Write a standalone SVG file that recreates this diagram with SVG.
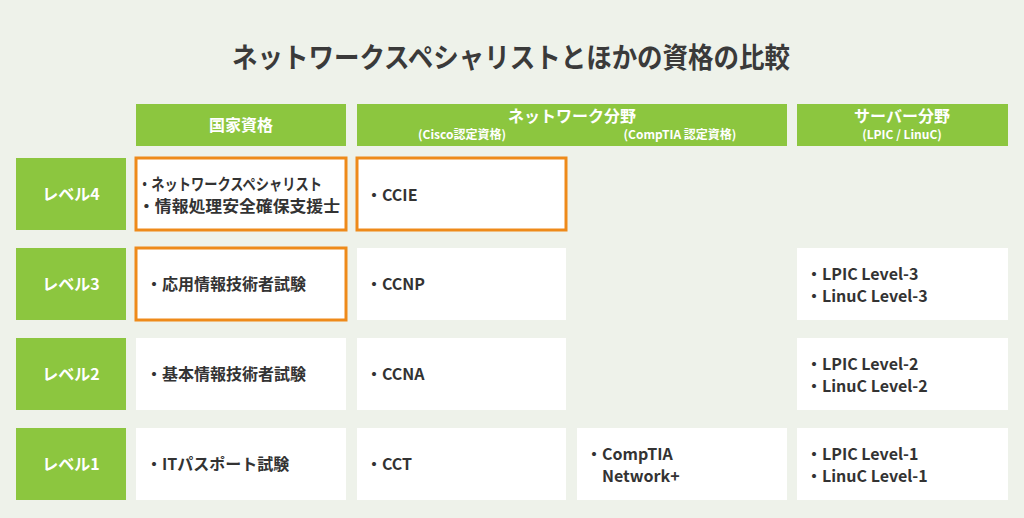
<svg xmlns="http://www.w3.org/2000/svg" width="1024" height="518" viewBox="0 0 1024 518">
<style>
.h{fill:#8cc63f}
.c{fill:#fff}
.o{fill:#fff;stroke:#ee8a1a;stroke-width:3}
text{font-family:"Noto Sans CJK JP","Noto Sans",sans-serif;font-weight:bold}
.ht{fill:#fff;font-size:16px;text-anchor:middle}
.hs{fill:#fff;font-size:12px;text-anchor:middle}
.t{fill:#333;font-size:16px}
</style>
<rect width="1024" height="518" fill="#eef2ea"/>
<text x="232" y="68" font-size="28" font-weight="500" fill="#3a3a3a" textLength="558" lengthAdjust="spacingAndGlyphs">ネットワークスペシャリストとほかの資格の比較</text>
<g id="headers">
<rect class="h" x="136" y="104" width="210" height="42"/><text class="ht" x="241" y="131">国家資格</text>
<rect class="h" x="357" y="104" width="430" height="42"/><text class="ht" x="572" y="122">ネットワーク分野</text>
<text class="hs" x="462" y="139">(Cisco認定資格)</text><text class="hs" x="680" y="139">(CompTIA 認定資格)</text>
<rect class="h" x="797" y="104" width="211" height="42"/><text class="ht" x="902" y="122">サーバー分野</text><text class="hs" x="902" y="139">(LPIC / LinuC)</text>
</g>
<g id="levels">
<rect class="h" x="16" y="158" width="110" height="72"/><text class="ht" x="71" y="200">レベル4</text>
<rect class="h" x="16" y="248" width="110" height="72"/><text class="ht" x="71" y="290">レベル3</text>
<rect class="h" x="16" y="338" width="110" height="72"/><text class="ht" x="71" y="380">レベル2</text>
<rect class="h" x="16" y="428" width="110" height="72"/><text class="ht" x="71" y="470">レベル1</text>
</g>
<g id="row4">
<rect class="o" x="136" y="158" width="210" height="72"/><text class="t" x="138" y="190" font-size="15" textLength="184" lengthAdjust="spacingAndGlyphs">・ネットワークスペシャリスト</text><text class="t" x="138" y="212" font-size="15" textLength="202" lengthAdjust="spacingAndGlyphs">・情報処理安全確保支援士</text>
<rect class="o" x="357" y="158" width="209" height="72"/><text class="t" x="366" y="201">・CCIE</text>
</g>
<g id="row3">
<rect class="o" x="136" y="248" width="210" height="72"/><text class="t" x="146" y="290">・応用情報技術者試験</text>
<rect class="c" x="357" y="248" width="209" height="72"/><text class="t" x="366" y="290">・CCNP</text>
<rect class="c" x="797" y="248" width="211" height="72"/><text class="t" x="806" y="280">・LPIC Level-3</text><text class="t" x="806" y="302">・LinuC Level-3</text>
</g>
<g id="row2">
<rect class="c" x="136" y="338" width="210" height="72"/><text class="t" x="146" y="380">・基本情報技術者試験</text>
<rect class="c" x="357" y="338" width="209" height="72"/><text class="t" x="366" y="380">・CCNA</text>
<rect class="c" x="797" y="338" width="211" height="72"/><text class="t" x="806" y="370">・LPIC Level-2</text><text class="t" x="806" y="392">・LinuC Level-2</text>
</g>
<g id="row1">
<rect class="c" x="136" y="428" width="210" height="72"/><text class="t" x="146" y="470">・ITパスポート試験</text>
<rect class="c" x="357" y="428" width="209" height="72"/><text class="t" x="366" y="470">・CCT</text>
<rect class="c" x="577" y="428" width="210" height="72"/><text class="t" x="586" y="460">・CompTIA</text><text class="t" x="602" y="482">Network+</text>
<rect class="c" x="797" y="428" width="211" height="72"/><text class="t" x="806" y="460">・LPIC Level-1</text><text class="t" x="806" y="482">・LinuC Level-1</text>
</g>
<g id="connectors"/>
</svg>
